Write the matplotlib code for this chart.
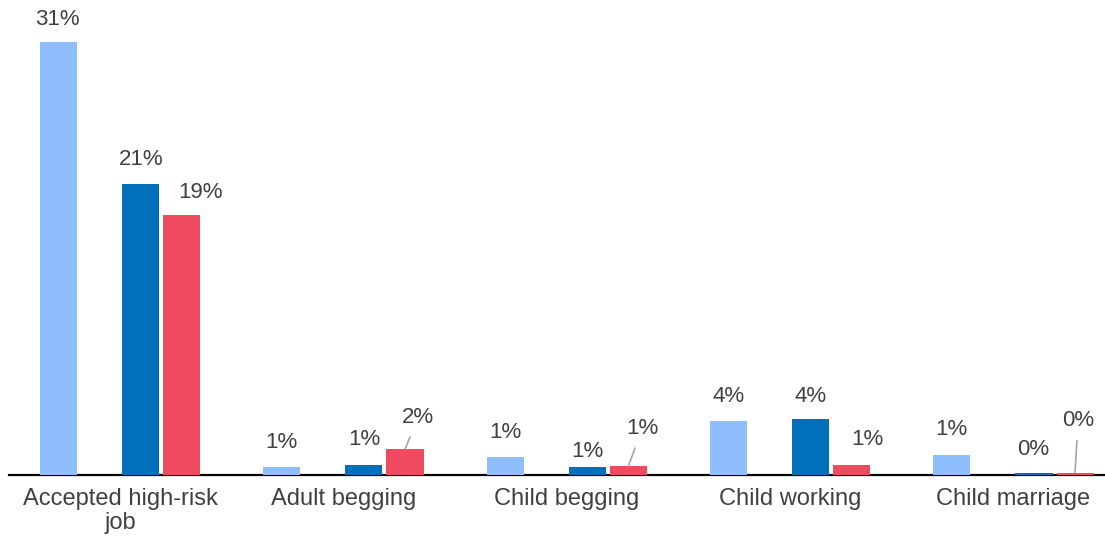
import matplotlib.pyplot as plt
import numpy as np

plt.rcParams["font.family"] = ["Liberation Sans", "DejaVu Sans"]

categories = ["Accepted high-risk\njob", "Adult begging", "Child begging",
              "Child working", "Child marriage"]

# share of respondents per category (%), three groups
series_a = [31.1, 0.55, 1.3, 3.9, 1.45]
series_b = [20.9, 0.72, 0.55, 4.0, 0.17]
series_c = [18.7, 1.85, 0.63, 0.72, 0.17]

colors = ["#8FBEFF", "#0070BA", "#EF4A60"]
text_color = "#404040"

# label offsets in pixels from the bar top (dx, dy), and whether a leader line is drawn
offsets_a = [(-1, 22), (0, 25), (0, 24), (0, 24), (0, 25)]
offsets_b = [(1, 24), (0, 25), (0, 16), (0, 23), (-1, 23)]
offsets_c = [(19, 22), (13, 32), (14, 38), (16, 25), (3, 52)]
leaders_c = [False, True, True, False, True]

fig = plt.figure(figsize=(11.05, 5.38), dpi=100)
ax = fig.add_axes([9 / 1105, 63 / 538, 1 - 9 / 1105, 475 / 538])

x = np.arange(len(categories))
slot = 0.184
width = 0.166
# four slots per group, the second one stays empty
pos = [x - 1.5 * slot, x + 0.5 * slot, x + 1.5 * slot]
data = [series_a, series_b, series_c]
offs = [offsets_a, offsets_b, offsets_c]

for k in range(3):
    ax.bar(pos[k], data[k], width=width, color=colors[k], zorder=2)
    for i, v in enumerate(data[k]):
        dx, dy = offs[k][i]
        arrow = None
        if k == 2 and leaders_c[i]:
            arrow = dict(arrowstyle="-", color="#A6A6A6", lw=1.2,
                         shrinkA=5, shrinkB=0)
        ax.annotate(f"{v:.0f}%", xy=(pos[k][i], v), xytext=(dx, dy),
                    textcoords="offset pixels", ha="center", va="center",
                    fontsize=16, color=text_color, arrowprops=arrow,
                    annotation_clip=False)

ax.set_xlim(-0.497, 4.41)
ax.set_ylim(0, 34.1)
ax.set_xticks(x)
ax.set_xticklabels(categories, fontsize=17, color=text_color, linespacing=1.15)
ax.tick_params(axis="x", length=0, pad=9)
ax.set_yticks([])
for side in ["top", "right", "left"]:
    ax.spines[side].set_visible(False)
ax.spines["bottom"].set_linewidth(1.6)
ax.spines["bottom"].set_zorder(1)

fig.savefig("out.png", dpi=100)
